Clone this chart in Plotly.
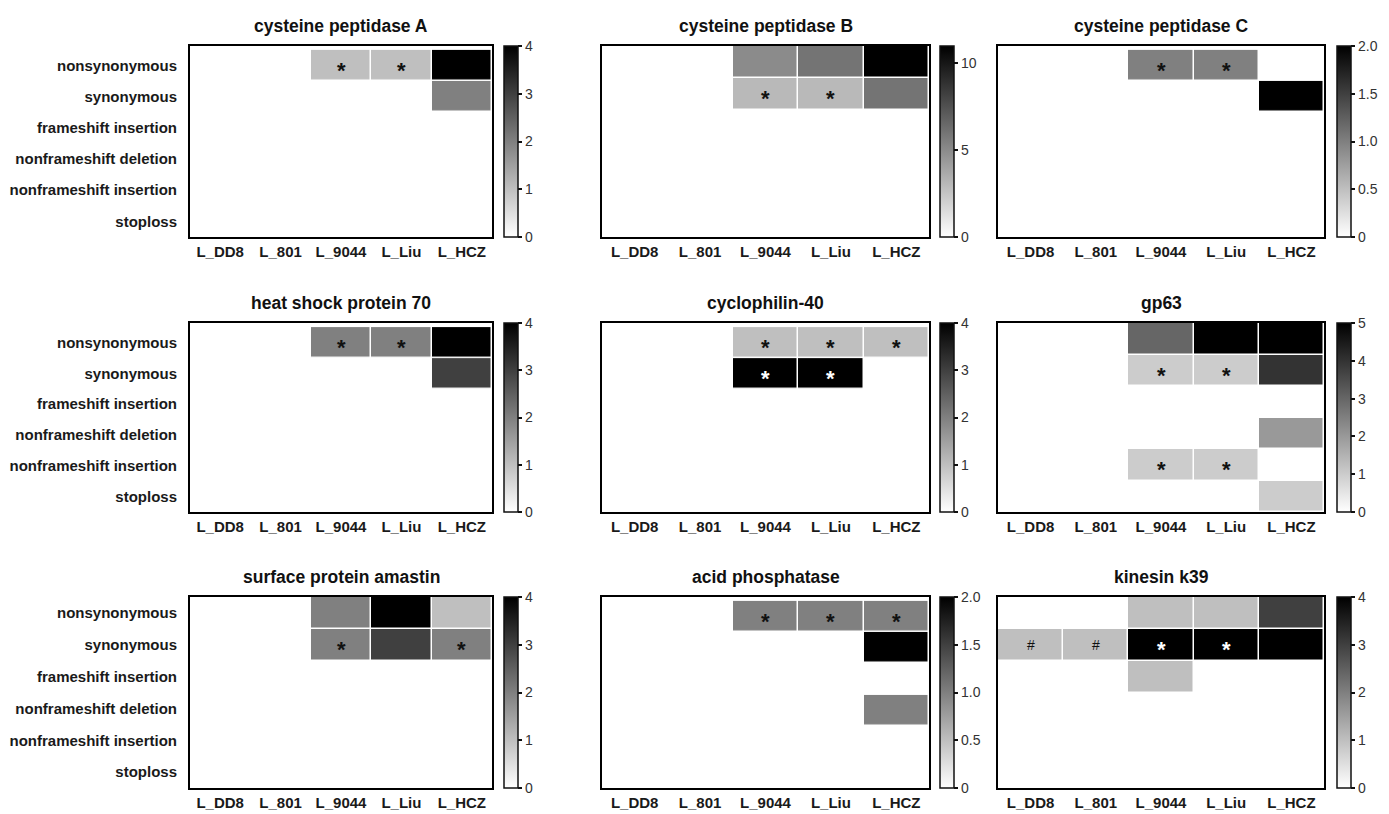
import plotly.graph_objects as go

strains = ["L_DD8", "L_801", "L_9044", "L_Liu", "L_HCZ"]
mutation_types = ["nonsynonymous", "synonymous", "frameshift insertion",
                  "nonframeshift deletion", "nonframeshift insertion", "stoploss"]

titles = ["cysteine peptidase A", "cysteine peptidase B", "cysteine peptidase C",
          "heat shock protein 70", "cyclophilin-40", "gp63",
          "surface protein amastin", "acid phosphatase", "kinesin k39"]

cysteine_peptidase_A = [[0, 0, 1, 1, 4], [0, 0, 0, 0, 2], [0, 0, 0, 0, 0],
                        [0, 0, 0, 0, 0], [0, 0, 0, 0, 0], [0, 0, 0, 0, 0]]
cysteine_peptidase_B = [[0, 0, 5, 6, 11], [0, 0, 3, 3, 6], [0, 0, 0, 0, 0],
                        [0, 0, 0, 0, 0], [0, 0, 0, 0, 0], [0, 0, 0, 0, 0]]
cysteine_peptidase_C = [[0, 0, 1, 1, 0], [0, 0, 0, 0, 2], [0, 0, 0, 0, 0],
                        [0, 0, 0, 0, 0], [0, 0, 0, 0, 0], [0, 0, 0, 0, 0]]
heat_shock_protein_70 = [[0, 0, 2, 2, 4], [0, 0, 0, 0, 3], [0, 0, 0, 0, 0],
                         [0, 0, 0, 0, 0], [0, 0, 0, 0, 0], [0, 0, 0, 0, 0]]
cyclophilin_40 = [[0, 0, 1, 1, 1], [0, 0, 4, 4, 0], [0, 0, 0, 0, 0],
                  [0, 0, 0, 0, 0], [0, 0, 0, 0, 0], [0, 0, 0, 0, 0]]
gp63 = [[0, 0, 3, 5, 5], [0, 0, 1, 1, 4], [0, 0, 0, 0, 0],
        [0, 0, 0, 0, 2], [0, 0, 1, 1, 0], [0, 0, 0, 0, 1]]
surface_protein_amastin = [[0, 0, 2, 4, 1], [0, 0, 2, 3, 2], [0, 0, 0, 0, 0],
                           [0, 0, 0, 0, 0], [0, 0, 0, 0, 0], [0, 0, 0, 0, 0]]
acid_phosphatase = [[0, 0, 1, 1, 1], [0, 0, 0, 0, 2], [0, 0, 0, 0, 0],
                    [0, 0, 0, 0, 1], [0, 0, 0, 0, 0], [0, 0, 0, 0, 0]]
kinesin_k39 = [[0, 0, 1, 1, 3], [1, 1, 4, 4, 4], [0, 0, 1, 0, 0],
               [0, 0, 0, 0, 0], [0, 0, 0, 0, 0], [0, 0, 0, 0, 0]]

E = ["", "", "", "", ""]
marks_A = [["", "", "*", "*", ""], E, E, E, E, E]
marks_B = [E, ["", "", "*", "*", ""], E, E, E, E]
marks_C = [["", "", "*", "*", ""], E, E, E, E, E]
marks_hsp70 = [["", "", "*", "*", ""], E, E, E, E, E]
marks_cyp40 = [["", "", "*", "*", "*"], ["", "", "*", "*", ""], E, E, E, E]
marks_gp63 = [E, ["", "", "*", "*", ""], E, E, ["", "", "*", "*", ""], E]
marks_amastin = [E, ["", "", "*", "", "*"], E, E, E, E]
marks_acp = [["", "", "*", "*", "*"], E, E, E, E, E]
marks_k39 = [E, ["#", "#", "*", "*", ""], E, E, E, E]

zmax_values = [4, 11, 2, 4, 4, 5, 4, 2, 4]
cbar_tickvals = [[0, 1, 2, 3, 4], [0, 5, 10], [0, 0.5, 1.0, 1.5, 2.0],
                 [0, 1, 2, 3, 4], [0, 1, 2, 3, 4], [0, 1, 2, 3, 4, 5],
                 [0, 1, 2, 3, 4], [0, 0.5, 1.0, 1.5, 2.0], [0, 1, 2, 3, 4]]
cbar_ticktext = [["0", "1", "2", "3", "4"], ["0", "5", "10"], ["0", "0.5", "1.0", "1.5", "2.0"],
                 ["0", "1", "2", "3", "4"], ["0", "1", "2", "3", "4"], ["0", "1", "2", "3", "4", "5"],
                 ["0", "1", "2", "3", "4"], ["0", "0.5", "1.0", "1.5", "2.0"], ["0", "1", "2", "3", "4"]]

data_sets = [cysteine_peptidase_A, cysteine_peptidase_B, cysteine_peptidase_C,
             heat_shock_protein_70, cyclophilin_40, gp63,
             surface_protein_amastin, acid_phosphatase, kinesin_k39]
mark_sets = [marks_A, marks_B, marks_C, marks_hsp70, marks_cyp40, marks_gp63,
             marks_amastin, marks_acp, marks_k39]

W, H = 1389, 814
col_px = [(190, 492), (602, 929), (998, 1324)]
row_px = [(46, 237), (323, 512), (597, 788)]
cbar_left = [504, 940, 1337]
FONT = "Liberation Sans, Arial, sans-serif"

fig = go.Figure()
layout = dict(width=W, height=H, margin=dict(l=0, r=0, t=0, b=0),
              paper_bgcolor="white", plot_bgcolor="white", showlegend=False)
annotations = []

for i in range(9):
    r, c = divmod(i, 3)
    ax = "" if i == 0 else str(i + 1)
    x0, x1 = col_px[c]
    y0, y1 = row_px[r]
    z = data_sets[i]
    zmax = zmax_values[i]
    fig.add_trace(go.Heatmap(
        z=z, x=strains, y=mutation_types, xaxis="x" + ax, yaxis="y" + ax,
        zmin=0, zmax=zmax, colorscale=[[0, "#ffffff"], [1, "#000000"]],
        xgap=1.5, ygap=1.5, hoverinfo="skip",
        colorbar=dict(
            x=cbar_left[c] / W, xanchor="left", xpad=0, ypad=0,
            y=1 - y0 / H, yanchor="top", lenmode="pixels", len=y1 - y0,
            thicknessmode="pixels", thickness=14,
            outlinewidth=1.5, outlinecolor="#111111",
            tickvals=cbar_tickvals[i], ticktext=cbar_ticktext[i],
            ticks="outside", ticklen=4, tickwidth=1.5, tickcolor="#111111",
            tickfont=dict(family=FONT, size=14, color="#333333")),
    ))
    layout["xaxis" + ax] = dict(
        domain=[x0 / W, x1 / W], anchor="y" + ax, type="category",
        showline=True, mirror=True, linecolor="black", linewidth=2,
        showgrid=False, zeroline=False, ticks="",
        tickfont=dict(family=FONT, size=15, color="#1a1a1a", weight="bold"),
        fixedrange=True)
    layout["yaxis" + ax] = dict(
        domain=[1 - y1 / H, 1 - y0 / H], anchor="x" + ax, type="category",
        autorange="reversed", showline=True, mirror=True, linecolor="black",
        linewidth=2, showgrid=False, zeroline=False, ticks="",
        showticklabels=(c == 0), ticklabelstandoff=8,
        tickfont=dict(family=FONT, size=15, color="#1a1a1a", weight="bold"),
        fixedrange=True)
    annotations.append(dict(
        text=titles[i], xref="paper", yref="paper",
        x=(x0 + x1) / 2 / W, y=1 - y0 / H, yshift=8,
        xanchor="center", yanchor="bottom", showarrow=False,
        font=dict(family=FONT, size=17.5, color="#111111", weight="bold")))
    for ri, row in enumerate(mark_sets[i]):
        for ci, m in enumerate(row):
            if m:
                dark = z[ri][ci] >= 0.75 * zmax
                annotations.append(dict(
                    text=m, xref="x" + ax, yref="y" + ax,
                    x=strains[ci], y=mutation_types[ri],
                    showarrow=False, yshift=-5 if m == "*" else 0,
                    font=dict(family=FONT, size=22 if m == "*" else 14,
                              color="white" if dark else "#111111",
                              weight="bold" if m == "*" else "normal")))

layout["annotations"] = annotations
fig.update_layout(**layout)
fig.write_html("out.html")
